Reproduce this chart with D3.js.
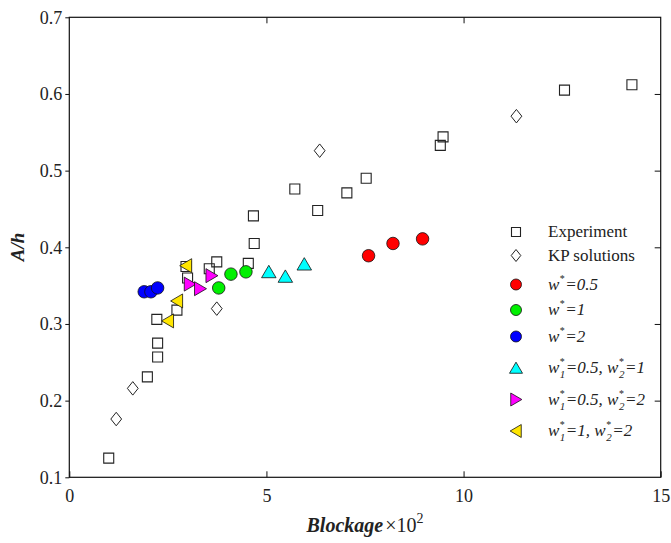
<!DOCTYPE html>
<html><head><meta charset="utf-8">
<script src="https://cdn.jsdelivr.net/npm/d3@7"></script>
<style>body{margin:0;background:#fff}svg{display:block}</style>
</head><body>
<svg id="chart" width="671" height="543"></svg>
<script>
// ---- data ----
const experiment = [[1.0,0.125],[1.98,0.231],[2.24,0.257],[2.24,0.275],[2.22,0.306],[2.73,0.318],[3.0,0.360],[2.96,0.375],[3.55,0.372],[3.74,0.381],[4.54,0.379],[4.69,0.405],[4.67,0.441],[5.72,0.476],[6.30,0.448],[7.04,0.471],[7.53,0.490],[9.41,0.533],[9.48,0.544],[12.56,0.605],[14.27,0.612]];
const kpSolutions = [[1.19,0.176],[1.61,0.216],[3.74,0.320],[6.35,0.526],[11.34,0.571]];
const w05 = [[7.59,0.389],[8.21,0.405],[8.96,0.411]];
const w1 = [[3.79,0.347],[4.10,0.365],[4.48,0.368]];
const w2 = [[1.90,0.342],[2.07,0.342],[2.24,0.347]];
const w05w1 = [[5.06,0.368],[5.48,0.362],[5.96,0.378]];
const w05w2 = [[3.06,0.352],[3.32,0.346],[3.61,0.363]];
const w1w2 = [[2.96,0.376],[2.73,0.330],[2.50,0.304]];
const xTicks = [0,5,10,15];
const yTicks = [0.1,0.2,0.3,0.4,0.5,0.6,0.7];
const legendLabels = [
  [{t:"Experiment"}],
  [{t:"KP solutions"}],
  [{t:"w",i:1},{sup:"*"},{t:"=0.5",i:1}],
  [{t:"w",i:1},{sup:"*"},{t:"=1",i:1}],
  [{t:"w",i:1},{sup:"*"},{t:"=2",i:1}],
  [{t:"w",i:1},{sup:"*",sub:"1"},{t:"=0.5, w",i:1},{sup:"*",sub:"2"},{t:"=1",i:1}],
  [{t:"w",i:1},{sup:"*",sub:"1"},{t:"=0.5, w",i:1},{sup:"*",sub:"2"},{t:"=2",i:1}],
  [{t:"w",i:1},{sup:"*",sub:"1"},{t:"=1, w",i:1},{sup:"*",sub:"2"},{t:"=2",i:1}]
];

// ---- symbols (size = nominal extent in px) ----
const sqr = {draw(c,s){const h=s/2;c.moveTo(-h,-h);c.lineTo(h,-h);c.lineTo(h,h);c.lineTo(-h,h);c.closePath();}};
const dia = {draw(c,s){const w=s*0.4,h=s*0.5;c.moveTo(0,-h);c.lineTo(w,0);c.lineTo(0,h);c.lineTo(-w,0);c.closePath();}};
const circ = {draw(c,s){c.moveTo(s/2,0);c.arc(0,0,s/2,0,2*Math.PI);}};
const triUp = {draw(c,s){const w=s*0.5,h=s*0.45;c.moveTo(0,-h);c.lineTo(w,h*0.9);c.lineTo(-w,h*0.9);c.closePath();}};
const triR = {draw(c,s){const w=s*0.45,h=s*0.5;c.moveTo(w,0);c.lineTo(-w*0.9,h);c.lineTo(-w*0.9,-h);c.closePath();}};
const triL = {draw(c,s){const w=s*0.45,h=s*0.5;c.moveTo(-w,0);c.lineTo(w*0.9,-h);c.lineTo(w*0.9,h);c.closePath();}};

const series = [
  {data:experiment, type:sqr, size:10, lsize:9, fill:"none", stroke:"#222", sw:1.1},
  {data:kpSolutions, type:dia, size:13.5, lsize:12, fill:"none", stroke:"#222", sw:1.0},
  {data:w05, type:circ, size:12.5, lsize:11, fill:"#ff0000", stroke:"#111", sw:0.8},
  {data:w1, type:circ, size:12.5, lsize:11, fill:"#00f000", stroke:"#111", sw:0.8},
  {data:w2, type:circ, size:12.5, lsize:11, fill:"#0000ff", stroke:"#111", sw:0.8},
  {data:w05w1, type:triUp, size:14.5, lsize:13, fill:"#00ffff", stroke:"#111", sw:0.8},
  {data:w05w2, type:triR, size:14, lsize:13, fill:"#ff00ff", stroke:"#111", sw:0.8},
  {data:w1w2, type:triL, size:14, lsize:13, fill:"#ffe600", stroke:"#111", sw:0.8}
];

// ---- layout ----
const svg = d3.select("#chart");
const L=69.3, R=660.7, T=17.3, B=477.3;
const x = d3.scaleLinear().domain([0,15]).range([L,R]);
const y = d3.scaleLinear().domain([0.1,0.7]).range([B,T]);
const font = "'Liberation Serif','Times New Roman',serif";

function styleAxis(g, labels){
  g.select(".domain").remove();
  g.selectAll(".tick line").attr("stroke","#111").attr("stroke-width",1);
  g.selectAll("text").attr("font-family",font).attr("font-size",18).attr("fill","#222");
  if(!labels) g.selectAll("text").remove();
}
svg.append("g").attr("transform",`translate(0,${B})`)
  .call(d3.axisBottom(x).tickValues(xTicks).tickSizeInner(-6).tickSizeOuter(0).tickPadding(12).tickFormat(d3.format("d")))
  .call(g=>styleAxis(g,true));
svg.append("g").attr("transform",`translate(0,${T})`)
  .call(d3.axisTop(x).tickValues(xTicks.slice(1,-1)).tickSizeInner(-6).tickSizeOuter(0))
  .call(g=>styleAxis(g,false));
svg.append("g").attr("transform",`translate(${L},0)`)
  .call(d3.axisLeft(y).tickValues(yTicks).tickSizeInner(4).tickSizeOuter(0).tickPadding(3).tickFormat(d3.format(".1f")))
  .call(g=>styleAxis(g,true));
svg.append("g").attr("transform",`translate(${R},0)`)
  .call(d3.axisRight(y).tickValues(yTicks.slice(1,-1)).tickSizeInner(-6).tickSizeOuter(0))
  .call(g=>styleAxis(g,false));

svg.append("rect").attr("x",L).attr("y",T).attr("width",R-L).attr("height",B-T)
  .attr("fill","none").attr("stroke","#111").attr("stroke-width",1.2);

// ---- marks ----
series.forEach(s=>{
  svg.append("g").selectAll("path").data(s.data).join("path")
    .attr("d", d3.symbol().type(s.type).size(s.size))
    .attr("transform", d=>`translate(${x(d[0])},${y(d[1])})`)
    .attr("fill", s.fill).attr("stroke", s.stroke).attr("stroke-width", s.sw);
});

// ---- legend ----
const legRows = [232,255.5,284.5,310,336.5,368,399.5,431];
const lg = svg.append("g");
series.forEach((s,i)=>{
  lg.append("path").attr("d", d3.symbol().type(s.type).size(s.lsize))
    .attr("transform",`translate(516,${legRows[i]})`)
    .attr("fill", s.fill).attr("stroke", s.stroke).attr("stroke-width", s.sw);
  const txt = lg.append("text").attr("x",548).attr("y",legRows[i]+5)
    .attr("font-family",font).attr("font-size",17).attr("fill","#222");
  let pendDy = 0, pendDx = 0;
  legendLabels[i].forEach(p=>{
    if(p.t!==undefined){
      const ts = txt.append("tspan").text(p.t).attr("font-style",p.i?"italic":"normal");
      if(pendDy) ts.attr("dy",pendDy);
      if(pendDx) ts.attr("dx",pendDx);
      pendDy=0; pendDx=0;
    } else {
      const sp = txt.append("tspan").text(p.sup).attr("font-size",10).attr("dy",-8).attr("dx",0.5);
      const ws = sp.node().getComputedTextLength();
      if(p.sub){
        const sb = txt.append("tspan").text(p.sub).attr("font-size",11).attr("font-style","italic")
          .attr("dx",-ws).attr("dy",13);
        const wb = sb.node().getComputedTextLength();
        pendDy = -5; pendDx = Math.max(0, ws-wb)+0.5;
      } else {
        pendDy = 8; pendDx = 0.5;
      }
    }
  });
});

// ---- axis titles ----
svg.append("text").attr("transform","translate(24,247) rotate(-90)")
  .attr("text-anchor","middle").attr("font-family",font).attr("font-size",19)
  .attr("font-weight","bold").attr("font-style","italic").attr("fill","#222").text("A/h");
const xt = svg.append("text").attr("x",365).attr("y",532).attr("text-anchor","middle")
  .attr("font-family",font).attr("font-size",20).attr("fill","#222");
xt.append("tspan").text("Blockage").attr("font-weight","bold").attr("font-style","italic");
xt.append("tspan").text("\u00d710").attr("dx",2);
xt.append("tspan").text("2").attr("font-size",14).attr("dy",-9);
</script>
</body></html>
